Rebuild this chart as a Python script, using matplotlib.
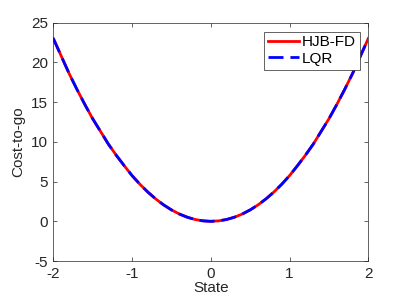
import matplotlib.pyplot as plt

# state grid and cost-to-go values
state = [-2.0, -1.9, -1.8, -1.7, -1.6, -1.5, -1.4, -1.3, -1.2, -1.1, -1.0,
         -0.9, -0.8, -0.7, -0.6, -0.5, -0.4, -0.3, -0.2, -0.1, 0.0,
         0.1, 0.2, 0.3, 0.4, 0.5, 0.6, 0.7, 0.8, 0.9, 1.0,
         1.1, 1.2, 1.3, 1.4, 1.5, 1.6, 1.7, 1.8, 1.9, 2.0]
hjb_fd = [23.0, 20.8, 18.6, 16.6, 14.7, 12.9, 11.3, 9.7, 8.3, 7.0, 5.75,
          4.66, 3.68, 2.82, 2.07, 1.44, 0.92, 0.52, 0.23, 0.06, 0.0,
          0.06, 0.23, 0.52, 0.92, 1.44, 2.07, 2.82, 3.68, 4.66, 5.75,
          7.0, 8.3, 9.7, 11.3, 12.9, 14.7, 16.6, 18.6, 20.8, 23.0]
lqr = [23.0, 20.8, 18.6, 16.6, 14.7, 12.9, 11.3, 9.7, 8.3, 7.0, 5.75,
       4.66, 3.68, 2.82, 2.07, 1.44, 0.92, 0.52, 0.23, 0.06, 0.0,
       0.06, 0.23, 0.52, 0.92, 1.44, 2.07, 2.82, 3.68, 4.66, 5.75,
       7.0, 8.3, 9.7, 11.3, 12.9, 14.7, 16.6, 18.6, 20.8, 23.0]

plt.rcParams['font.family'] = ['Liberation Sans', 'DejaVu Sans']
plt.rcParams['font.size'] = 11
plt.rcParams['axes.unicode_minus'] = False

fig = plt.figure(figsize=(4.07, 3.05), dpi=100)
ax = fig.add_axes([0.131, 0.144, 0.774, 0.782])

ax.plot(state, hjb_fd, color='red', lw=2, label='HJB-FD')
ax.plot(state, lqr, color='blue', lw=2, dashes=(5.4, 2.5), label='LQR')

ax.set_xlim(-2, 2)
ax.set_ylim(-5, 25)
ax.set_xticks([-2, -1, 0, 1, 2])
ax.set_yticks([-5, 0, 5, 10, 15, 20, 25])
ax.set_xlabel('State', color='#262626', labelpad=0)
ax.set_ylabel('Cost-to-go', color='#262626', labelpad=4)

for s in ax.spines.values():
    s.set_color('#262626')
    s.set_linewidth(0.5)
ax.tick_params(direction='in', top=True, right=True, length=3, width=0.5,
               colors='#262626', labelsize=11, pad=4)

leg = ax.legend(loc='upper right', bbox_to_anchor=(0.972, 0.962), fancybox=False,
                edgecolor='#262626', framealpha=1, handlelength=2.0,
                handletextpad=0.2, borderpad=0.25, labelspacing=0.15,
                borderaxespad=0)
leg.get_frame().set_linewidth(0.5)

plt.savefig('out.png', dpi=100)
plt.close()
